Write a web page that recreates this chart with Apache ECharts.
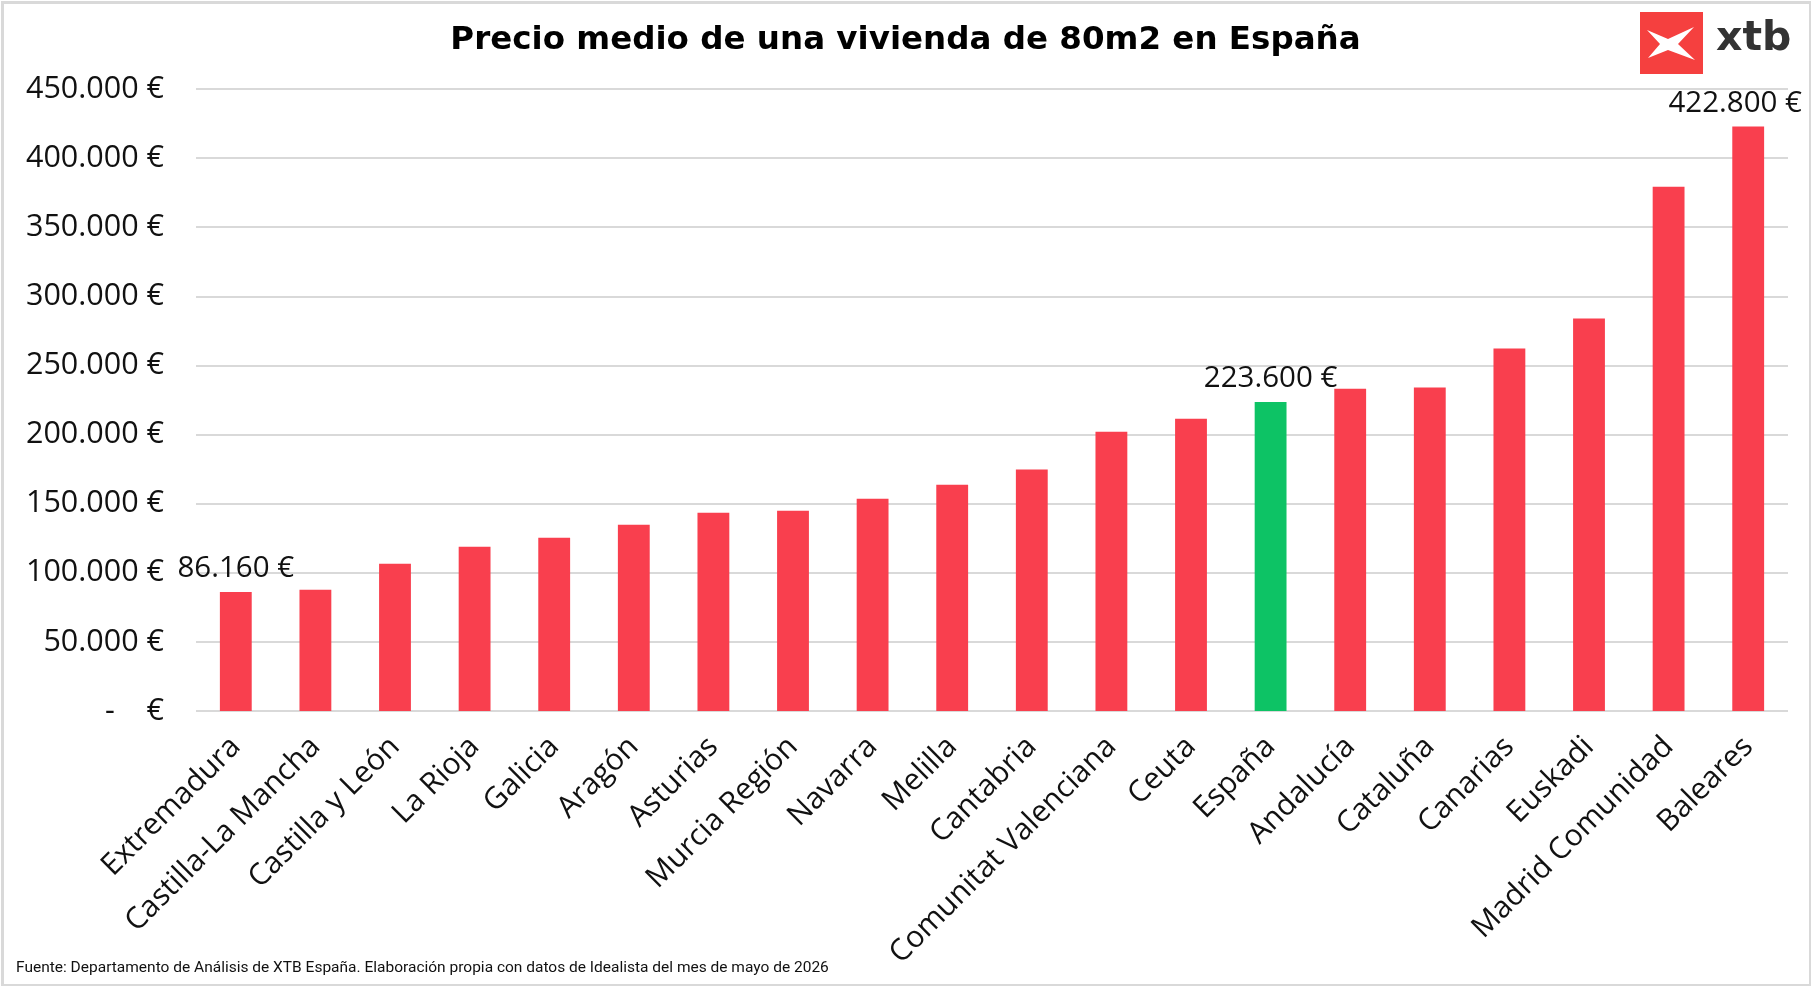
<!DOCTYPE html>
<html>
<head>
<meta charset="utf-8">
<script src="https://cdn.jsdelivr.net/npm/echarts@6/dist/echarts.min.js"></script>
<style>
html,body{margin:0;padding:0;background:#fff;}
#chart{width:1811px;height:986px;}
</style>
</head>
<body>
<div id="chart"></div>
<script>
const categories = ['Extremadura','Castilla-La Mancha','Castilla y León','La Rioja','Galicia','Aragón','Asturias','Murcia Región','Navarra','Melilla','Cantabria','Comunitat Valenciana','Ceuta','España','Andalucía','Cataluña','Canarias','Euskadi','Madrid Comunidad','Baleares'];
const values = [86160, 87800, 106600, 118900, 125400, 134800, 143500, 144900, 153600, 163700, 174750, 202000, 211400, 223600, 233100, 234100, 262300, 283900, 379300, 422800];
const labelledCategories = ['Extremadura','España','Baleares'];
const highlightCategory = 'España';
const titleText = 'Precio medio de una vivienda de 80m2 en España';
const sourceText = 'Fuente: Departamento de Análisis de XTB España. Elaboración propia con datos de Idealista del mes de mayo de 2026';

const RED = '#F93F4E', GREEN = '#0DC365';
const FONT = '"Open Sans"';

function fmtEuro(v){
  if (v === 0) return '-    €';
  return String(Math.round(v)).replace(/\B(?=(\d{3})+(?!\d))/g, '.') + ' €';
}

const chart = echarts.init(document.getElementById('chart'), null, {renderer:'canvas'});
chart.setOption({
  animation:false,
  backgroundColor:'#fff',
  textStyle:{fontFamily:FONT},
  title:{
    text:titleText,
    left:'center', top:19,
    textStyle:{fontFamily:'"DejaVu Sans"', fontWeight:'bold', fontSize:32.5, color:'#000'}
  },
  grid:{left:196, right:23, top:89, bottom:275, containLabel:false},
  xAxis:{
    type:'category',
    data:categories,
    axisLine:{show:false},
    axisTick:{show:false},
    axisLabel:{rotate:45, fontSize:30, color:'#111', fontFamily:FONT, margin:31, interval:0}
  },
  yAxis:{
    type:'value',
    min:0, max:450000, interval:50000,
    axisLine:{show:false},
    axisTick:{show:false},
    splitLine:{lineStyle:{color:'#d9d9d9', width:2}},
    axisLabel:{fontSize:30.5, color:'#111', fontFamily:FONT, margin:32, formatter:fmtEuro}
  },
  series:[{
    type:'bar',
    barWidth:'40%',
    data:categories.map((c,i)=>({
      value:values[i],
      itemStyle:{color: c===highlightCategory ? GREEN : RED},
      label:{show: labelledCategories.includes(c), offset: i===categories.length-1 ? [-13,0] : [0,0]}
    })),
    label:{position:'top', distance:8, fontSize:29.5, color:'#111', fontFamily:FONT, formatter:p=>fmtEuro(p.value)}
  }],
  graphic:[
    {type:'rect', left:0, top:0, shape:{x:1, y:1, width:1808, height:983}, style:{fill:'none', stroke:'#d9d9d9', lineWidth:3}, silent:true},
    {type:'rect', shape:{x:1640, y:12, width:63, height:62}, style:{fill:'#F5403F'}},
    {type:'polygon', shape:{points:[[1647,30],[1668,39],[1694,27],[1678,44],[1695,60],[1668,50],[1648,58],[1660,44]]}, style:{fill:'#fff'}},
    {type:'text', style:{x:1716, y:39, text:'xtb', fill:'#333', font:'bold 41px "DejaVu Sans"', textVerticalAlign:'middle'}},
    {type:'text', style:{x:16, y:968, text:sourceText, fill:'#111', font:'15.5px Roboto', textVerticalAlign:'middle'}}
  ]
});
</script>
</body>
</html>
